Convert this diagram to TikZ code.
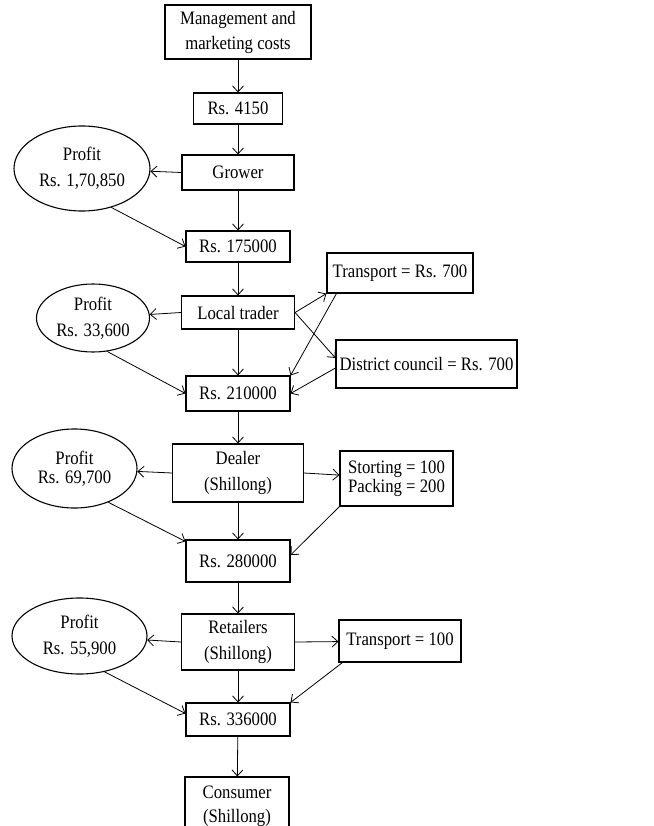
\documentclass[tikz,border=0pt]{standalone}
\usepackage{fontspec}
\setmainfont{Liberation Serif}[FakeStretch=0.88]
\usetikzlibrary{shapes.geometric,arrows.meta}
\tikzset{
  cost/.style={draw,line width=1.1pt,inner sep=1pt,align=center,font=\fontsize{19}{26}\selectfont},
  profit/.style={cost,ellipse,inner sep=0pt},
  flow/.style={line width=0.8pt,-{Straight Barb[length=6pt,width=11pt]}}
}

\begin{document}
\begin{tikzpicture}[x=1pt,y=-1pt]
    \useasboundingbox (0,0) rectangle (653,826);

    % main chain
    \node[cost,minimum width=146pt,minimum height=54pt] (mgmt) at (238,32) {Management and\\[-1pt]marketing costs};
    \node[cost,minimum width=89pt,minimum height=31pt] (r4150) at (238,108.5) {Rs. 4150};
    \node[cost,minimum width=112pt,minimum height=35pt] (grower) at (238,172.5) {Grower};
    \node[cost,minimum width=104pt,minimum height=31pt] (r175) at (238,246.5) {Rs. 175000};
    \node[cost,minimum width=113pt,minimum height=33pt] (trader) at (238,312.5) {Local trader};
    \node[cost,minimum width=104pt,minimum height=35pt] (r210) at (238,393.5) {Rs. 210000};
    \node[cost,minimum width=131pt,minimum height=58pt] (dealer) at (238,473) {Dealer\\(Shillong)};
    \node[cost,minimum width=104pt,minimum height=42pt] (r280) at (238,561) {Rs. 280000};
    \node[cost,minimum width=113pt,minimum height=56pt] (retail) at (238,642) {Retailers\\(Shillong)};
    \node[cost,minimum width=104pt,minimum height=33pt] (r336) at (238,719.5) {Rs. 336000};
    \node[cost,minimum width=104pt,minimum height=58pt] (consumer) at (237,806) {Consumer\\[-2pt](Shillong)};

    % profits
    \node[profit,minimum width=136pt,minimum height=85pt] (p1) at (82,168.5) {Profit\\Rs. 1,70,850};
    \node[profit,minimum width=113pt,minimum height=68pt] (p2) at (93,318) {Profit\\Rs. 33,600};
    \node[profit,minimum width=125pt,minimum height=79pt] (p3) at (74.5,468.5) {Profit\\[-7pt]Rs. 69,700};
    \node[profit,minimum width=135pt,minimum height=76pt] (p4) at (79.5,636) {Profit\\Rs. 55,900};

    % other costs
    \node[cost,minimum width=146pt,minimum height=40pt] (trans1) at (400,273) {Transport = Rs. 700};
    \node[cost,minimum width=181pt,minimum height=48pt] (council) at (426.5,364) {District council = Rs. 700};
    \node[cost,minimum width=113pt,minimum height=55pt] (pack) at (396.5,478.5) {Storting = 100\\[-7pt]Packing = 200};
    \node[cost,minimum width=122pt,minimum height=42pt] (trans2) at (400,641) {Transport = 100};

    % vertical flow
    \draw[flow] (mgmt) -- (r4150);
    \draw[flow] (r4150) -- (grower);
    \draw[flow] (grower) -- (r175);
    \draw[flow] (r175) -- (trader);
    \draw[flow] (trader) -- (r210);
    \draw[flow] (r210) -- (dealer);
    \draw[flow] (dealer) -- (r280);
    \draw[flow] (r280) -- (retail);
    \draw[flow] (retail) -- (r336);
    \draw[flow] (r336) -- (consumer);

    % profit side
    \draw[flow] (grower.west) -- (p1);
    \draw[flow] (p1.-53) -- (r175.west);
    \draw[flow] (trader.west) -- (p2);
    \draw[flow] (p2.-67) -- (r210.west);
    \draw[flow] (dealer.west) -- (p3);
    \draw[flow] (p3.-45) -- ([yshift=-2pt]r280.north west);
    \draw[flow] (retail.west) -- (p4);
    \draw[flow] (p4.-55) -- ([yshift=6pt]r336.west);

    % cost side
    \draw[flow] (trader.east) -- (trans1.south west);
    \draw[flow] (trader.east) -- ([yshift=6pt]council.west);
    \draw[flow] ([xshift=10pt]trans1.south west) -- (r210.north east);
    \draw[flow] ([yshift=-4pt]council.west) -- (r210.east);
    \draw[flow] (dealer.east) -- (pack);
    \draw[flow] (pack.south west) -- ([yshift=6pt]r280.east);
    \draw[flow] (retail.east) -- (trans2);
    \draw[flow] ([xshift=4pt]trans2.south west) -- (r336.north east);
\end{tikzpicture}
\end{document}
